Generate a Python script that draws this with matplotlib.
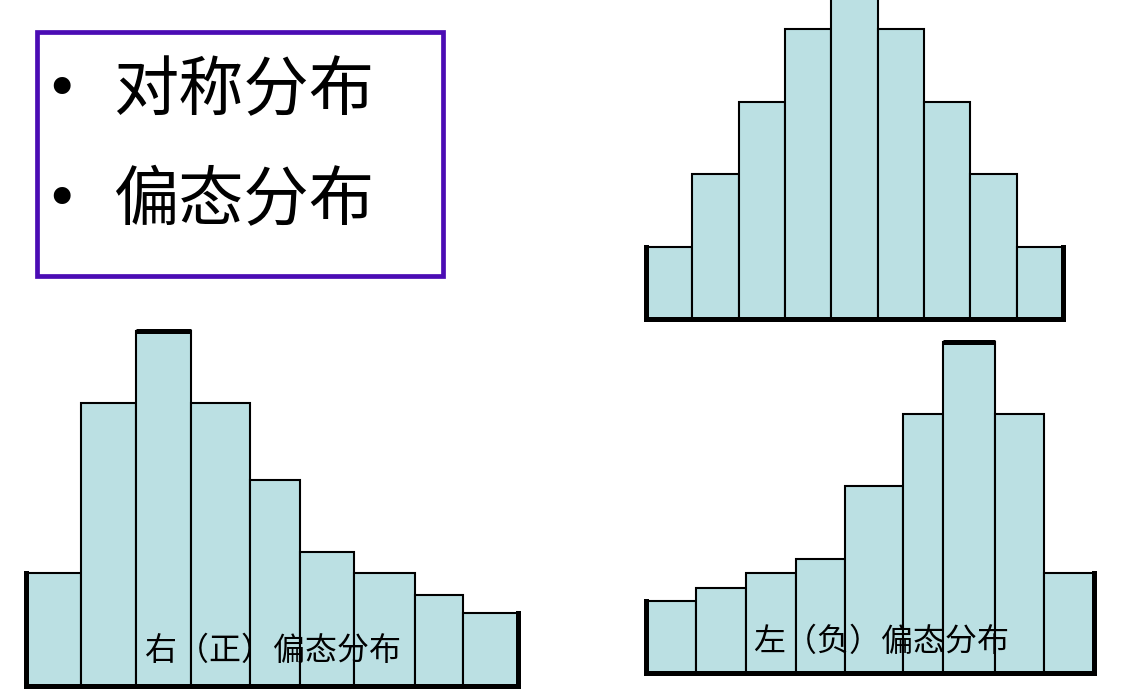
import matplotlib
matplotlib.use("Agg")
import matplotlib.pyplot as plt
from matplotlib.patches import Rectangle

plt.rcParams['font.family'] = ['Noto Sans CJK SC', 'DejaVu Sans']

# ---- data ----
sym_edges = [0, 1, 2, 3, 4, 5, 6, 7, 8, 9]
sym_heights = [1, 2, 3, 4, 5, 4, 3, 2, 1]

right_edges = [0, 5.5, 11.0, 16.5, 22.4, 27.4, 32.8, 38.9, 43.7, 49.2]
right_heights = [11.3, 28.3, 35.5, 28.3, 20.6, 13.4, 11.3, 9.1, 7.3]
right_label = "右（正）偏态分布"

left_edges = [0, 5.0, 10.0, 15.0, 19.9, 25.7, 29.7, 34.9, 39.8, 44.8]
left_heights = [7.2, 8.5, 10.0, 11.4, 18.7, 25.9, 33.1, 25.9, 10.0]
left_label = "左（负）偏态分布"

bullet_items = ["对称分布", "偏态分布"]

# ---- style ----
W, H, DPI = 1130, 697, 100
FILL = '#BBE0E3'
PURPLE = '#4B0CB4'
THIN = 1.5
THICK = 3.6

fig = plt.figure(figsize=(W / DPI, H / DPI), dpi=DPI)
fig.patch.set_facecolor('white')


def place(left_px, right_px, base_px, top_px):
    return fig.add_axes([left_px / W, (H - base_px) / H,
                         (right_px - left_px) / W, (base_px - top_px) / H])


def histogram(ax, edges, heights, ytop, thick_top=True):
    lefts = edges[:-1]
    widths = [b - a for a, b in zip(edges[:-1], edges[1:])]
    ax.bar(lefts, heights, width=widths, align='edge', color=FILL,
           edgecolor='black', linewidth=THIN)
    kw = dict(color='black', lw=THICK, clip_on=False, solid_capstyle='projecting')
    ax.plot([edges[0], edges[0]], [0, heights[0]], **kw)
    ax.plot([edges[-1], edges[-1]], [0, heights[-1]], **kw)
    ax.plot([edges[0], edges[-1]], [0, 0], **kw)
    if thick_top:
        i = heights.index(max(heights))
        ax.plot([edges[i], edges[i + 1]], [heights[i], heights[i]],
                color='black', lw=THICK, clip_on=False, solid_capstyle='butt')
    ax.set_xlim(edges[0], edges[-1])
    ax.set_ylim(0, ytop)
    ax.axis('off')


# symmetric (top right); tallest bar runs off the top of the figure
ax1 = place(646, 1063, 319, 319 - 6 * 72.4)
histogram(ax1, sym_edges, sym_heights, 6, thick_top=False)

# right-skewed (bottom left)
ax2 = place(26, 518, 686, 286)
histogram(ax2, right_edges, right_heights, 40)

# left-skewed (bottom right)
ax3 = place(646, 1094, 673, 273)
histogram(ax3, left_edges, left_heights, 40)


def fx(px):
    return px / W


def fy(py):
    return (H - py) / H


fig.text(fx(273), fy(651), right_label, fontsize=23, ha='center', va='center',
         color='black')
fig.text(fx(881), fy(642), left_label, fontsize=23, ha='center', va='center',
         color='black')

# text box
box = Rectangle((fx(37), fy(276)), fx(443) - fx(37), fy(32) - fy(276),
                transform=fig.transFigure, facecolor='none',
                edgecolor=PURPLE, linewidth=3.4)
fig.patches.append(box)

for item, yc in zip(bullet_items, [92, 202]):
    fig.text(fx(61), fy(yc - 2), "•", fontsize=42, ha='center', va='center',
             family='DejaVu Sans', color='black')
    fig.text(fx(113), fy(yc), item, fontsize=47, ha='left', va='center',
             color='black')

fig.savefig('out.png', dpi=DPI, facecolor='white')
